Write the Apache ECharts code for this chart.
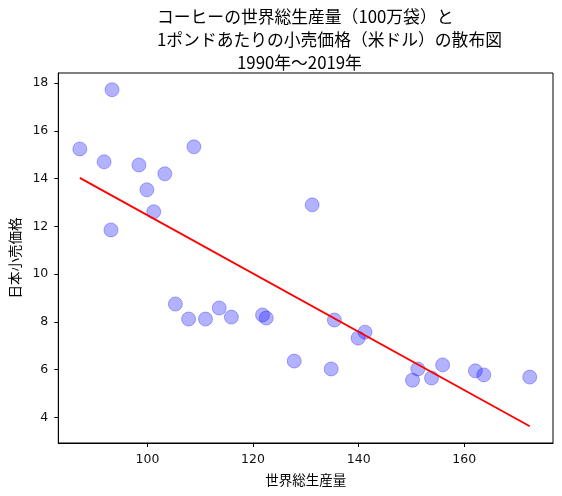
<!DOCTYPE html>
<html>
<head>
<meta charset="utf-8">
<script src="https://cdn.jsdelivr.net/npm/echarts@6/dist/echarts.min.js"></script>
<style>
  html, body { margin: 0; padding: 0; background: #fff; }
  #chart { width: 562px; height: 496px; }
</style>
</head>
<body>
<div id="chart"></div>
<script>
// 世界総生産量（100万袋）
var production = [
    87.2, 91.8, 93.3, 93.1, 98.4, 99.9, 101.2, 103.3, 108.8, 105.3,
    107.8, 111.0, 113.6, 115.9, 121.8, 122.5, 131.2, 127.8, 134.8, 135.4,
    139.9, 141.2, 150.2, 151.2, 153.8, 155.9, 162.1, 163.7, 172.4
];
// 日本小売価格（米ドル / ポンド）
var price = [
    15.24, 14.70, 17.72, 11.85, 14.57, 13.53, 12.61, 14.20, 15.33, 8.75,
    8.12, 8.12, 8.58, 8.20, 8.29, 8.16, 12.90, 6.36, 6.03, 8.08,
    7.32, 7.57, 5.56, 6.03, 5.65, 6.20, 5.95, 5.78, 5.69
];
// 回帰直線の両端
var trendX = [87.2, 172.4];
var trendY = [14.03, 3.63];

var xTicks = [100, 120, 140, 160];
var yTicks = [4, 6, 8, 10, 12, 14, 16, 18];

var titleLines = [
    'コーヒーの世界総生産量（100万袋）と',
    '1ポンドあたりの小売価格（米ドル）の散布図',
    '1990年～2019年'
];

var points = production.map(function (x, i) {
    return [x, price[i]];
});
var trend = trendX.map(function (x, i) {
    return [x, trendY[i]];
});

var font = '"Noto Sans CJK JP", "Noto Sans", sans-serif';
var tickFont = '"DejaVu Sans", sans-serif';
var titleStyle = {
    fontFamily: font,
    fontSize: 16.8,
    fontWeight: 'normal',
    color: '#000',
    lineHeight: 20
};

var option = {
    animation: false,
    textStyle: {fontFamily: font},
    title: [
        {text: titleLines[0], left: 157, top: 7, padding: 0, textStyle: titleStyle},
        {text: titleLines[1], left: 157, top: 30, padding: 0, textStyle: titleStyle},
        {text: titleLines[2], left: 237, top: 53, padding: 0, textStyle: titleStyle}
    ],
    grid: {
        left: 57,
        right: 9,
        top: 73,
        bottom: 53,
        show: true,
        borderColor: '#000',
        borderWidth: 1
    },
    xAxis: {
        type: 'value',
        min: 83.13,
        max: 176.8,
        name: '世界総生産量',
        nameLocation: 'middle',
        nameGap: 30,
        nameTextStyle: {fontSize: 13.5, color: '#000', fontFamily: font},
        axisLine: {show: true, lineStyle: {color: '#000', width: 1}},
        axisTick: {show: true, length: 4, lineStyle: {color: '#000'}, customValues: xTicks},
        axisLabel: {fontSize: 12.5, color: '#111', margin: 10, fontFamily: tickFont, customValues: xTicks},
        splitLine: {show: false}
    },
    yAxis: {
        type: 'value',
        min: 2.93,
        max: 18.42,
        name: '日本小売価格',
        nameLocation: 'middle',
        nameGap: 35,
        nameTextStyle: {fontSize: 13.5, color: '#000', fontFamily: font},
        axisLine: {show: true, lineStyle: {color: '#000', width: 1}},
        axisTick: {show: true, length: 4, lineStyle: {color: '#000'}, customValues: yTicks},
        axisLabel: {fontSize: 12.5, color: '#111', margin: 10, fontFamily: tickFont, customValues: yTicks},
        splitLine: {show: false}
    },
    series: [{
        type: 'scatter',
        data: points,
        symbolSize: 14,
        itemStyle: {
            color: 'rgba(0, 0, 255, 0.3)',
            borderColor: 'rgba(0, 0, 255, 0.3)',
            borderWidth: 1,
            opacity: 1
        },
        z: 2
    }, {
        type: 'line',
        data: trend,
        symbol: 'none',
        lineStyle: {color: '#ff0000', width: 1.8},
        z: 3
    }]
};

var chart = echarts.init(document.getElementById('chart'));
chart.setOption(option);
</script>
</body>
</html>
